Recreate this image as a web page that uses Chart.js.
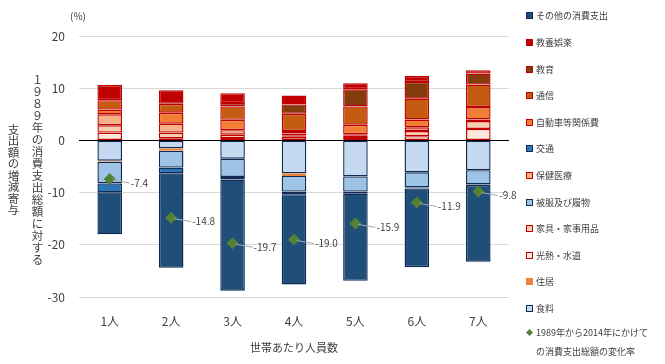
<!DOCTYPE html>
<html lang="ja">
<head>
<meta charset="utf-8">
<script src="https://cdn.jsdelivr.net/npm/chart.js@4.4.1/dist/chart.umd.min.js"></script>
<style>
  html, body { margin: 0; padding: 0; background: #fff; }
  .wrap { position: relative; width: 665px; height: 364px; font-family: "Noto Sans CJK JP", sans-serif; }
  .wrap canvas { position: absolute; left: 0; top: 0; }
  .legend { position: absolute; left: 524px; top: 0; width: 141px; height: 364px; font-size: 9px; color: #404040; }
  .legend .item { position: absolute; left: 0; height: 12px; line-height: 12px; white-space: nowrap; }
  .legend .box { position: absolute; left: 2px; top: 2px; width: 5px; height: 5px; border: 1px solid; }
  .legend .diamond { position: absolute; left: 3px; top: 3px; width: 5px; height: 5px; background: #548235; transform: rotate(45deg); }
  .legend .text { position: absolute; left: 12px; top: 0; }
</style>
</head>
<body>
<div class="wrap">
  <canvas id="household_chart" width="665" height="364"></canvas>
  <div class="legend"></div>
</div>
<script>
// データ
const category_labels = ["1人", "2人", "3人", "4人", "5人", "6人", "7人"];

const food = [-3.9, -1.5, -3.5, -6.3, -6.9, -6.1, -5.7];
const housing = [-0.2, -0.5, 0, -0.5, 0, 0, 0];
const utilities = [1.5, 0.4, 0.45, 0.7, 0.45, 0.8, 2.2];
const furniture = [1.4, 1.1, 0.65, 0.3, 0.45, 1.0, 1.5];
const clothing = [-4.15, -3.2, -3.5, -3.0, -2.9, -2.9, -2.75];
const medical = [2.1, 1.7, 0.85, 0.3, 0.3, 0.7, 0.3];
const transport = [-1.7, -1.1, -0.5, -0.5, -0.4, -0.2, -0.1];
const car = [0.9, 2.1, 2.0, 0.5, 1.8, 1.5, 2.4];
const communication = [1.8, 1.7, 2.55, 3.3, 3.5, 4.0, 4.3];
const education = [0, 0, 0.65, 1.8, 3.3, 3.2, 2.1];
const culture = [2.9, 2.6, 1.9, 1.7, 1.15, 1.15, 0.65];
const other = [-8.05, -18.1, -21.3, -17.3, -16.7, -15.1, -14.7];
const total_change = [-7.4, -14.8, -19.7, -19.0, -15.9, -11.9, -9.8];

const y_ticks = [-30, -20, -10, 0, 10, 20];

const text_color = "#404040";
const font_family = "'Noto Sans CJK JP', sans-serif";

const ctx = document.getElementById("household_chart").getContext("2d");
const legend_element = document.querySelector(".legend");

function makeBar(label, data, fill, border) {
  return {
    label: label,
    data: data,
    backgroundColor: fill,
    borderColor: border,
    borderWidth: 1.4,
    borderSkipped: false,
    inflateAmount: 0,
    stack: "s",
    order: 1,
    barPercentage: 0.4,
    categoryPercentage: 1.0,
  };
}

const bar_datasets = [
  makeBar("食料", food, "#c5d9f1", "#0f2b55"),
  makeBar("住居", housing, "#e8843e", "#e8843e"),
  makeBar("光熱・水道", utilities, "#fde9dc", "#c00000"),
  makeBar("家具・家事用品", furniture, "#f9cdb0", "#c00000"),
  makeBar("被服及び履物", clothing, "#9dc3e6", "#0f2b55"),
  makeBar("保健医療", medical, "#f5b187", "#c00000"),
  makeBar("交通", transport, "#2e75b6", "#0f2b55"),
  makeBar("自動車等関係費", car, "#f07f35", "#c00000"),
  makeBar("通信", communication, "#c55a11", "#c00000"),
  makeBar("教育", education, "#843c0c", "#c00000"),
  makeBar("教養娯楽", culture, "#c00000", "#c00000"),
  makeBar("その他の消費支出", other, "#1f4e79", "#0f2b55"),
];

const marker_dataset = {
  type: "line",
  label: "1989年から2014年にかけての消費支出総額の変化率",
  data: total_change,
  showLine: false,
  pointStyle: "rectRot",
  pointRadius: 6,
  pointBackgroundColor: "#548235",
  pointBorderColor: "#548235",
  pointBorderWidth: 0,
  stack: "m",
  order: 0,
};

// ゼロ線・ラベル・縦書きタイトル
const extras_plugin = {
  id: "extras",
  afterDatasetsDraw(chart) {
    const c = chart.ctx;
    const area = chart.chartArea;
    const y_scale = chart.scales.y;
    const y0 = Math.round(y_scale.getPixelForValue(0)) + 0.5;

    c.save();
    c.strokeStyle = "#000";
    c.lineWidth = 1;
    c.beginPath();
    c.moveTo(area.left, y0);
    c.lineTo(area.right, y0);
    c.stroke();

    // 変化率ラベル
    const meta = chart.getDatasetMeta(chart.data.datasets.length - 1);
    c.font = "10px " + font_family;
    c.fillStyle = text_color;
    c.textAlign = "left";
    c.textBaseline = "middle";
    meta.data.forEach((pt, i) => {
      c.strokeStyle = "#9fa9b4";
      c.beginPath();
      c.moveTo(pt.x + 3, pt.y + 1);
      c.lineTo(pt.x + 20, pt.y + 4);
      c.stroke();
      c.fillText(total_change[i].toFixed(1), pt.x + 21, pt.y + 4);
    });

    // (%)
    c.textAlign = "center";
    c.fillText("(%)", area.left - 1, area.top - 20);

    // 縦書きの軸タイトル
    c.font = "11.5px " + font_family;
    const mid = (area.top + area.bottom) / 2 + 3;
    const col1 = "１９８９年の消費支出総額に対する";
    const col2 = "支出額の増減寄与";
    [...col1].forEach((ch, i) => {
      c.fillText(ch, 37.5, mid + (i - (col1.length - 1) / 2) * 12);
    });
    [...col2].forEach((ch, i) => {
      c.fillText(ch, 13.5, mid + (i - (col2.length - 1) / 2) * 11.5);
    });
    c.restore();
  },
};

const my_chart = new Chart(ctx, {
  type: "bar",
  data: {
    labels: category_labels,
    datasets: [...bar_datasets, marker_dataset],
  },
  options: {
    responsive: false,
    animation: false,
    layout: { padding: { top: 36, right: 156, bottom: 0, left: 0 } },
    plugins: {
      legend: { display: false },
      tooltip: { enabled: false },
    },
    scales: {
      x: {
        stacked: true,
        grid: { display: false },
        border: { display: false },
        ticks: {
          color: text_color,
          font: { size: 12, family: font_family },
          padding: 9,
        },
        title: {
          display: true,
          text: "世帯あたり人員数",
          color: text_color,
          font: { size: 11, family: font_family },
          padding: { top: 0, bottom: 10 },
        },
        afterFit: (scale) => {
          scale.height = 67;
        },
      },
      y: {
        stacked: true,
        min: -30,
        max: 20,
        afterBuildTicks: (scale) => {
          scale.ticks = y_ticks.map((v) => ({ value: v }));
        },
        grid: { color: "#d9d9d9", drawTicks: false },
        border: { display: false },
        ticks: {
          color: text_color,
          font: { size: 12, family: font_family },
          padding: 14,
        },
        afterFit: (scale) => {
          scale.width = 79;
        },
      },
    },
  },
  plugins: [extras_plugin],
});

// 凡例
const legend_items = [...bar_datasets].reverse();
legend_items.forEach((ds, i) => {
  const item = document.createElement("div");
  item.className = "item";
  item.style.top = (16.3 + i * 26.6 - 6).toFixed(1) + "px";
  item.innerHTML =
    '<span class="box" style="background:' + ds.backgroundColor +
    ";border-color:" + ds.borderColor + '"></span>' +
    '<span class="text">' + ds.label + "</span>";
  legend_element.appendChild(item);
});

const marker_item = document.createElement("div");
marker_item.className = "item";
marker_item.style.top = "327.3px";
marker_item.innerHTML =
  '<span class="diamond"></span>' +
  '<span class="text" style="line-height:18.4px;top:-3px">1989年から2014年にかけて<br>の消費支出総額の変化率</span>';
legend_element.appendChild(marker_item);
</script>
</body>
</html>
